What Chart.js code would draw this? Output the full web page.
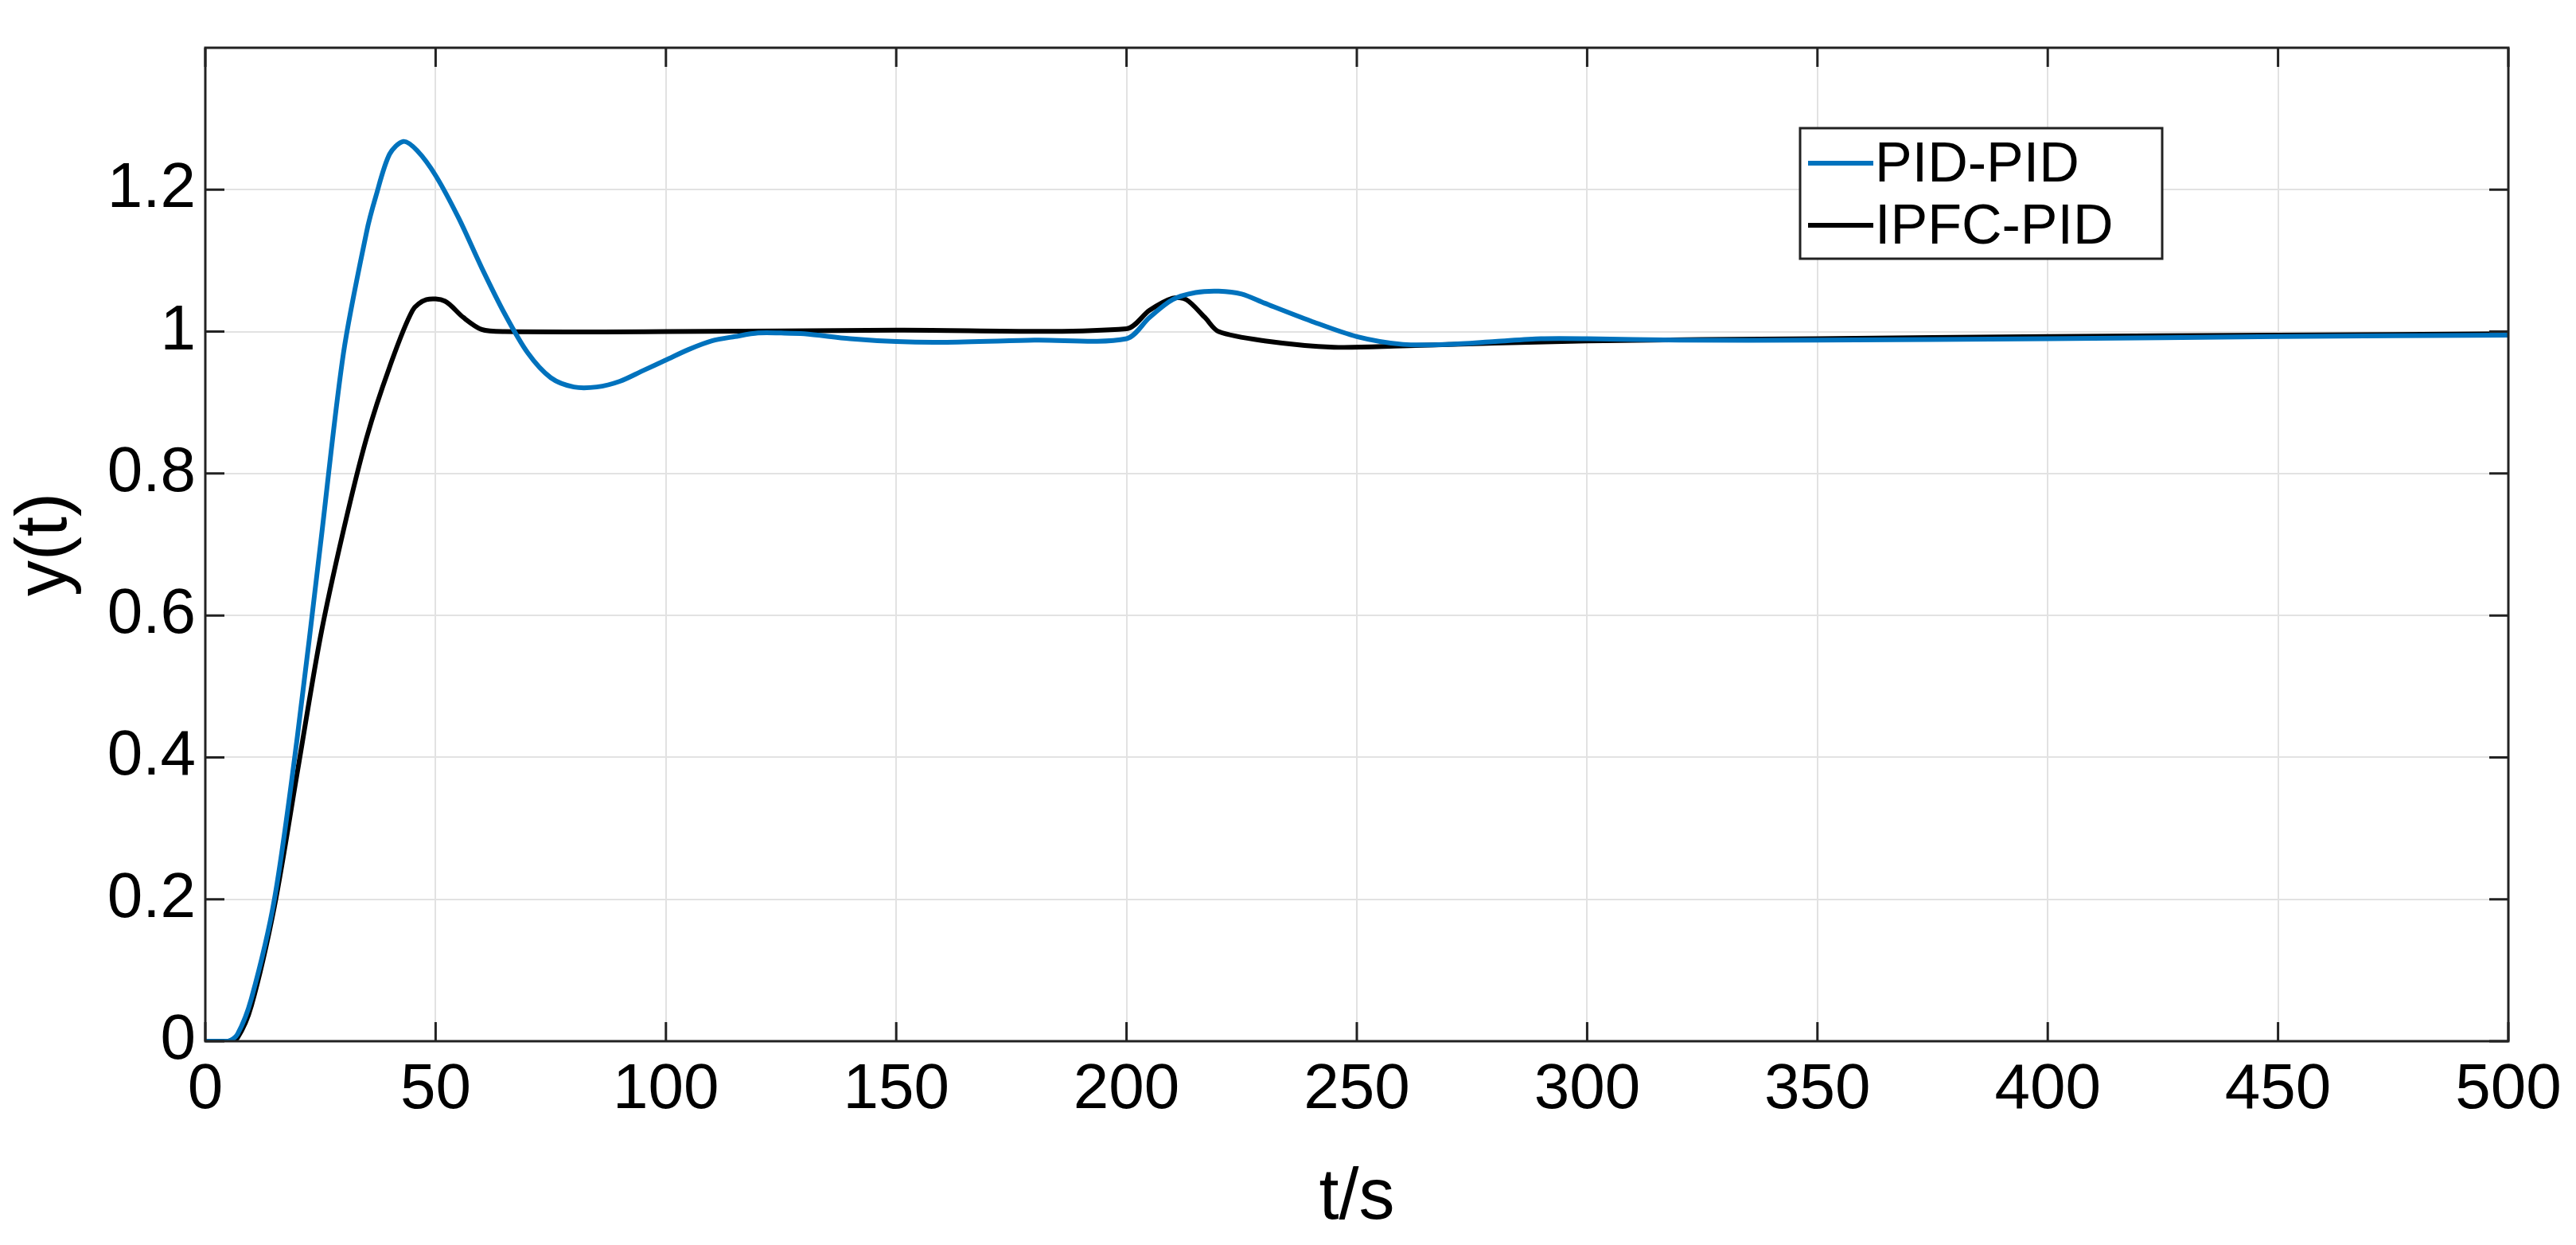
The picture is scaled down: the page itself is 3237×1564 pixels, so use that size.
<!DOCTYPE html>
<html><head><meta charset="utf-8">
<script src="https://cdn.jsdelivr.net/npm/chart.js@4"></script>
<style>html,body{margin:0;padding:0;background:#fff}#w{width:3237px;height:1564px}</style>
</head><body><div id="w"><canvas id="c" width="3237" height="1564"></canvas></div>
<script>
const pidT = [0,5,7,10,15,20,25,30,35,37,40,43,46,50,55,60,65,70,75,80,85,90,95,100,105,110,115,120,125,130,140,150,160,180,200,205,210,215,220,225,230,240,250,260,270,280,290,300,320,350,400,450,500];
const pidY = [0,0,0.01,0.06,0.2,0.43,0.7,0.97,1.14,1.19,1.25,1.268,1.255,1.22,1.16,1.09,1.025,0.97,0.935,0.922,0.922,0.93,0.945,0.96,0.975,0.987,0.993,0.998,0.998,0.997,0.99,0.986,0.985,0.988,0.99,1.02,1.045,1.055,1.057,1.053,1.04,1.015,0.993,0.982,0.982,0.986,0.99,0.99,0.988,0.988,0.99,0.993,0.995];
const ipfcT = [0,5,7,10,15,20,25,30,35,40,45,48,52,56,60,65,100,150,200,205,210,213,217,220,230,245,260,300,350,400,450,500];
const ipfcY = [0,0,0.005,0.05,0.19,0.38,0.57,0.72,0.85,0.95,1.03,1.045,1.043,1.02,1.003,1.0,1.0,1.002,1.004,1.03,1.047,1.045,1.02,1.0,0.987,0.978,0.98,0.987,0.99,0.993,0.995,0.997];
const seriesNames = ['PID-PID','IPFC-PID'];
const xTicks = [0,50,100,150,200,250,300,350,400,450,500];
const yTicks = [0,0.2,0.4,0.6,0.8,1,1.2];

const FONT = 'Liberation Sans, Arial, sans-serif';
const L=258,R=3152,T=42,B=1308;
const frame = {
  id:'frame',
  afterDraw(ch){
    const ctx=ch.ctx, a=ch.chartArea, xs=ch.scales.x, ys=ch.scales.y;
    ctx.save();
    ctx.strokeStyle='#222'; ctx.lineWidth=3;
    ctx.strokeRect(a.left,a.top,a.right-a.left,a.bottom-a.top);
    const tl=24;
    xTicks.forEach(v=>{const x=xs.getPixelForValue(v);ctx.beginPath();ctx.moveTo(x,a.bottom);ctx.lineTo(x,a.bottom-tl);ctx.moveTo(x,a.top);ctx.lineTo(x,a.top+tl);ctx.stroke();});
    yTicks.forEach(v=>{const y=ys.getPixelForValue(v);ctx.beginPath();ctx.moveTo(a.left,y);ctx.lineTo(a.left+tl,y);ctx.moveTo(a.right,y);ctx.lineTo(a.right-tl,y);ctx.stroke();});
    const lx=2262, ly=161, lw=455, lh=164;
    ctx.fillStyle='#fff'; ctx.fillRect(lx,ly,lw,lh);
    ctx.strokeStyle='#222'; ctx.lineWidth=3; ctx.strokeRect(lx,ly,lw,lh);
    ctx.font='70px '+FONT; ctx.textBaseline='middle'; ctx.fillStyle='#000';
    ch.data.datasets.forEach((d,i)=>{
      const y=ly+44+i*78;
      ctx.strokeStyle=d.borderColor; ctx.lineWidth=6;
      ctx.beginPath(); ctx.moveTo(lx+10,y); ctx.lineTo(lx+92,y); ctx.stroke();
      ctx.fillText(d.label,lx+94,y+4);
    });
    ctx.restore();
  }
};
new Chart(document.getElementById('c'),{
  type:'line',
  data:{datasets:[
    {label:seriesNames[0],data:pidT.map((t,i)=>({x:t,y:pidY[i]})),borderColor:'#0072BD',borderWidth:6,pointRadius:0,tension:0.3,fill:false},
    {label:seriesNames[1],data:ipfcT.map((t,i)=>({x:t,y:ipfcY[i]})),borderColor:'#000000',borderWidth:6,pointRadius:0,tension:0.3,fill:false}
  ]},
  options:{
    responsive:false,animation:false,
    layout:{padding:{left:0,right:3237-R,top:T,bottom:0}},
    plugins:{legend:{display:false},tooltip:{enabled:false}},
    scales:{
      x:{type:'linear',min:0,max:500,
        afterBuildTicks(s){s.ticks=xTicks.map(v=>({value:v}));},
        afterFit(s){s.height=1564-B;},
        grid:{color:'#e2e2e2',lineWidth:2,drawTicks:false},border:{display:false},
        ticks:{color:'#000',font:{family:FONT,size:80},padding:14,maxRotation:0},
        title:{display:true,text:'t/s',color:'#000',font:{family:FONT,size:90},padding:{top:6}}},
      y:{type:'linear',min:0,max:1.4,
        afterBuildTicks(s){s.ticks=yTicks.map(v=>({value:v}));},
        afterFit(s){s.width=L;},
        grid:{color:'#e2e2e2',lineWidth:2,drawTicks:false},border:{display:false},
        ticks:{color:'#000',font:{family:FONT,size:80},padding:12,callback:v=>String(Math.round(v*10)/10)},
        title:{display:true,text:'y(t)',color:'#000',font:{family:FONT,size:90},padding:{bottom:0}}}
    }
  },
  plugins:[frame]
});
</script></body></html>
